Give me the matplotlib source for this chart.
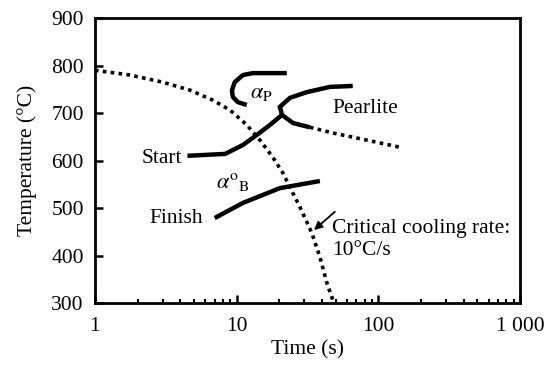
import matplotlib
matplotlib.use("Agg")
import matplotlib.pyplot as plt
from matplotlib.ticker import FixedLocator, FixedFormatter, LogLocator, NullFormatter

plt.rcParams['font.family'] = ['Liberation Serif', 'DejaVu Serif']
plt.rcParams['mathtext.fontset'] = 'stix'
plt.rcParams['font.size'] = 15.5

# Critical cooling curve (dotted)
cool_t = [1, 1.77, 3.0, 4.7, 6.8, 9.0, 11.8, 14.6, 18.0, 21.2, 23.8, 28, 34, 38.7, 43.4, 47.8]
cool_T = [790, 780, 765, 748, 727, 706, 675, 643, 607, 574, 544, 502, 447, 397, 342, 306]

# Start curve continuing into pearlite start
start_t = [4.5, 8.3, 11.1, 13.9, 17.2, 20.9, 20.2, 23.8, 31.3, 45.5, 66]
start_T = [610, 614, 633, 654, 675, 696, 713, 732, 744, 755, 757]

# Pearlite finish (solid part, then dotted)
pf_t = [20.9, 25.0, 32.9]
pf_T = [696, 679, 670]
pfd_t = [32.9, 47.8, 83, 142]
pfd_T = [670, 658, 643, 628]

# alpha_P nose
ap_t = [22.6, 13.0, 11.1, 9.7, 9.27, 9.4, 10.2, 11.8]
ap_T = [784, 784, 780, 765, 748, 734, 723, 717]

# Bainite finish
bf_t = [7.0, 11.1, 20.2, 38.7]
bf_T = [479, 511, 542, 557]

xticks = [1, 10, 100, 1000]
xlabels = ['1', '10', '100', '1 000']
yticks = [300, 400, 500, 600, 700, 800, 900]

fig = plt.figure(figsize=(5.55, 3.67), dpi=100)
ax = fig.add_axes([0.171, 0.174, 0.766, 0.777])

ax.plot(cool_t, cool_T, color='black', lw=2.6, linestyle=(0, (1, 1.2)), dash_capstyle='butt')
ax.plot(start_t, start_T, color='black', lw=3.2, solid_joinstyle='miter', solid_capstyle='butt')
ax.plot(pf_t, pf_T, color='black', lw=3.2, solid_capstyle='butt')
ax.plot(pfd_t, pfd_T, color='black', lw=2.6, linestyle=(0, (1, 1.2)), dash_capstyle='butt')
ax.plot(ap_t, ap_T, color='black', lw=3.2, solid_capstyle='butt')
ax.plot(bf_t, bf_T, color='black', lw=3.2, solid_capstyle='butt')

ax.set_xscale('log')
ax.set_xlim(1, 1000)
ax.set_ylim(300, 900)
ax.xaxis.set_major_locator(FixedLocator(xticks))
ax.xaxis.set_major_formatter(FixedFormatter(xlabels))
ax.xaxis.set_minor_locator(LogLocator(base=10, subs=range(2, 10)))
ax.xaxis.set_minor_formatter(NullFormatter())
ax.set_yticks(yticks)

ax.tick_params(axis='both', which='major', direction='in', length=6, width=1.8, labelsize=15.5)
ax.tick_params(axis='y', which='major', pad=8)
ax.tick_params(axis='x', which='major', pad=10)
ax.tick_params(axis='x', which='minor', direction='in', length=3, width=1.5)
ax.tick_params(top=False, right=False)
for s in ax.spines.values():
    s.set_linewidth(2.0)

ax.set_xlabel('Time (s)', fontsize=15.5, labelpad=3)
ax.set_ylabel('Temperature (°C)', fontsize=15.5, labelpad=10)

ax.text(12.4, 742, r'$\alpha_{\rm P}$', fontsize=16, va='center', ha='left')
ax.text(47.8, 710, 'Pearlite', fontsize=15.5, va='center', ha='left')
ax.text(4.1, 605, 'Start', fontsize=15.5, va='center', ha='right')
ax.text(7.2, 555, r'$\alpha^{\rm o}{}_{\rm B}$', fontsize=16, va='center', ha='left')
ax.text(5.8, 479, 'Finish', fontsize=15.5, va='center', ha='right')
ax.text(47.1, 458, 'Critical cooling rate:', fontsize=15.5, va='center', ha='left')
ax.text(47.1, 410, '10°C/s', fontsize=15.5, va='center', ha='left')
ax.annotate('', xy=(34, 450), xytext=(51, 496),
            arrowprops=dict(arrowstyle='-|>', color='black', lw=1.3, mutation_scale=12))

fig.savefig('out.png', dpi=100)
